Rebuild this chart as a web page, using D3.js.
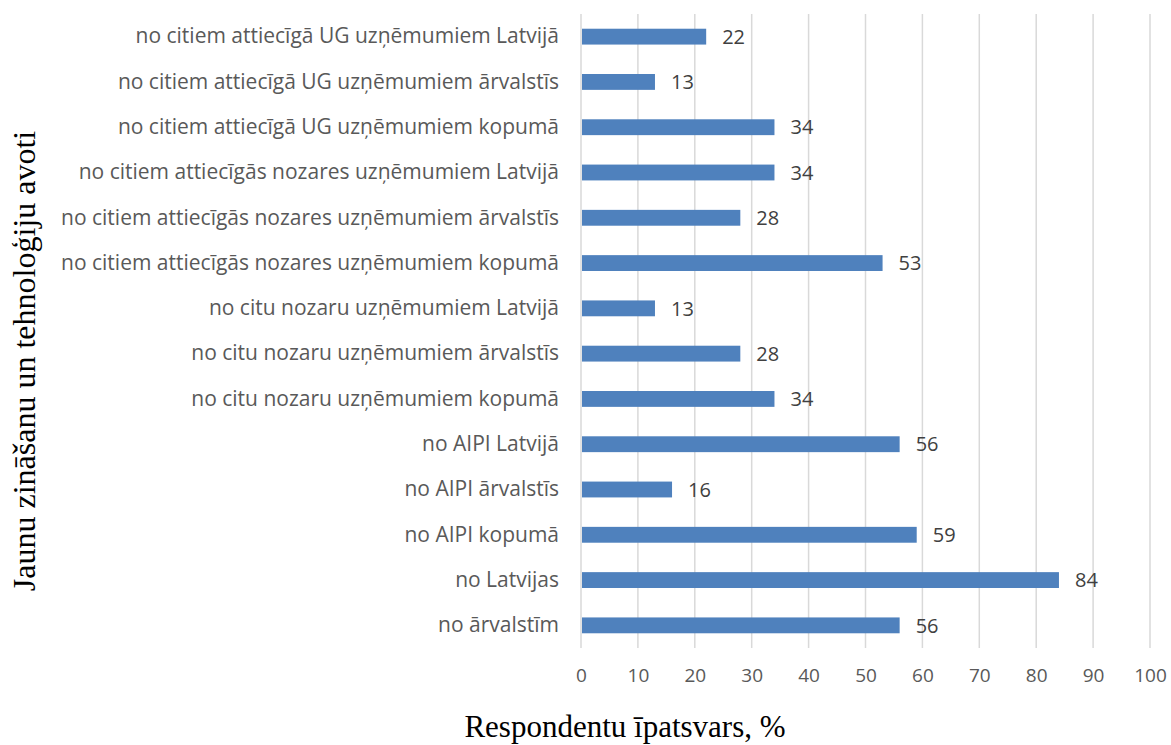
<!DOCTYPE html>
<html>
<head>
<meta charset="utf-8">
<script src="https://cdn.jsdelivr.net/npm/d3@7"></script>
<style>
  html, body { margin: 0; padding: 0; background: #fff; }
  svg { display: block; }
</style>
</head>
<body>
<svg id="chart" width="1171" height="745"></svg>
<script>
// Knowledge and technology sources, top to bottom
const categories = [
  "no citiem attiecīgā UG uzņēmumiem Latvijā",
  "no citiem attiecīgā UG uzņēmumiem ārvalstīs",
  "no citiem attiecīgā UG uzņēmumiem kopumā",
  "no citiem attiecīgās nozares uzņēmumiem Latvijā",
  "no citiem attiecīgās nozares uzņēmumiem ārvalstīs",
  "no citiem attiecīgās nozares uzņēmumiem kopumā",
  "no citu nozaru uzņēmumiem Latvijā",
  "no citu nozaru uzņēmumiem ārvalstīs",
  "no citu nozaru uzņēmumiem kopumā",
  "no AIPI Latvijā",
  "no AIPI ārvalstīs",
  "no AIPI kopumā",
  "no Latvijas",
  "no ārvalstīm"
];
// Share of respondents, %
const values = [22, 13, 34, 34, 28, 53, 13, 28, 34, 56, 16, 59, 84, 56];
const xTicks = [0, 10, 20, 30, 40, 50, 60, 70, 80, 90, 100];
const xTitle = "Respondentu īpatsvars, %";
const yTitle = "Jaunu zināšanu un tehnoloģiju avoti";

const svg = d3.select("#chart");
const plot = { left: 581, right: 1150, top: 14, bottom: 648 };
const labelFont = "'Open Sans', 'Noto Sans', sans-serif";
const titleFont = "'Liberation Serif', 'Times New Roman', serif";

const x = d3.scaleLinear().domain([0, 100]).range([plot.left, plot.right]);
const y = d3.scaleBand().domain(categories).range([plot.top, plot.bottom]).paddingInner(0.65).paddingOuter(0.325);

// vertical gridlines
svg.append("g")
  .selectAll("line")
  .data(xTicks)
  .join("line")
  .attr("x1", d => x(d)).attr("x2", d => x(d))
  .attr("y1", plot.top).attr("y2", plot.bottom)
  .attr("stroke", "#d9d9d9")
  .attr("stroke-width", 1.5);

// x axis tick labels
const xAxis = d3.axisBottom(x).tickValues(xTicks).tickSize(0).tickPadding(21);
const gx = svg.append("g").attr("transform", `translate(0,${plot.bottom})`).call(xAxis);
gx.select(".domain").remove();
gx.selectAll("text")
  .attr("fill", "#595959")
  .style("font-family", labelFont)
  .style("font-size", "19px");

// y axis category labels
const yAxis = d3.axisLeft(y).tickSize(0).tickPadding(22);
const gy = svg.append("g").attr("transform", `translate(${plot.left},0)`).call(yAxis);
gy.select(".domain").remove();
gy.selectAll("text")
  .attr("fill", "#595959")
  .style("font-family", labelFont)
  .style("font-size", "21px");

// bars
const rows = categories.map((c, i) => ({ c, v: values[i] }));
svg.append("g")
  .selectAll("rect")
  .data(rows)
  .join("rect")
  .attr("x", x(0) + 1)
  .attr("y", d => y(d.c))
  .attr("width", d => x(d.v) - x(0) - 1)
  .attr("height", y.bandwidth())
  .attr("fill", "#4f81bd");

// value labels
svg.append("g")
  .selectAll("text")
  .data(rows)
  .join("text")
  .attr("x", d => x(d.v) + 16)
  .attr("y", d => y(d.c) + y.bandwidth() / 2)
  .attr("dy", "0.36em")
  .attr("fill", "#404040")
  .style("font-family", labelFont)
  .style("font-size", "20px")
  .text(d => d.v);

// axis titles
svg.append("text")
  .attr("x", 625)
  .attr("y", 737)
  .attr("text-anchor", "middle")
  .attr("fill", "#000")
  .style("font-family", titleFont)
  .style("font-size", "31px")
  .text(xTitle);

svg.append("text")
  .attr("transform", "translate(35,361) rotate(-90)")
  .attr("text-anchor", "middle")
  .attr("fill", "#000")
  .style("font-family", titleFont)
  .style("font-size", "32px")
  .text(yTitle);
</script>
</body>
</html>
